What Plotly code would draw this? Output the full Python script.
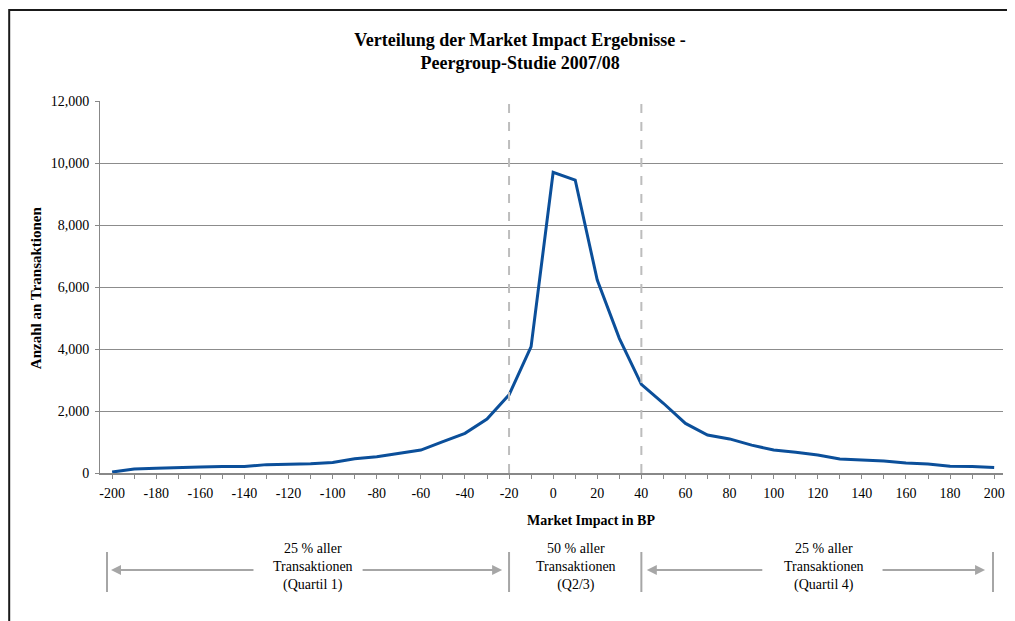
import plotly.graph_objects as go

impact_bp = list(range(-200, 201, 10))
transactions = [30, 130, 150, 160, 190, 210, 210, 270, 280, 300, 340,
                460, 525, 635, 740, 1010, 1280, 1740, 2520, 4075,
                9700, 9450, 6225, 4345, 2860, 2250, 1600, 1225, 1100, 900, 740,
                670, 580, 450, 420, 390, 320, 290, 215, 210, 180]
quartile_bounds = [-20, 40]
x_ticks = list(range(-200, 201, 20))
y_ticks = list(range(0, 12001, 2000))

# page has an 8px body margin; work in reference-pixel coordinates and shift
OFF = 8
W, H = 1015 - OFF, 621 - OFF
PL, PR, PT, PB = 100, 1005, 101, 473          # plot area in reference pixels
L, R, T, B = PL - OFF, W - (PR - OFF), PT - OFF, H - (PB - OFF)
pw, ph = W - L - R, H - T - B

def px(xpix):
    return (xpix - PL) / pw

def py(ypix):
    return (PB - ypix) / ph

serif = "Liberation Serif, Times New Roman, serif"
grey = "#A6A6A6"

fig = go.Figure()
fig.add_trace(go.Scatter(x=impact_bp, y=transactions, mode="lines",
                         line=dict(color="#0B4F9A", width=3), hoverinfo="x+y"))

shapes = []
for qb in quartile_bounds:
    shapes.append(dict(type="line", xref="x", yref="paper", x0=qb, x1=qb, y0=0, y1=1,
                       line=dict(color="#BDBDBD", width=2, dash="dash")))
# outer frame
shapes.append(dict(type="rect", xref="paper", yref="paper", x0=px(9), x1=px(1040),
                   y0=py(660), y1=py(10), line=dict(color="#1a1a1a", width=2), layer="below"))
# quartile bars below the chart
for x0, xr in [(px(107), "paper"), (quartile_bounds[0], "x"), (quartile_bounds[1], "x"), (px(995), "paper")]:
    shapes.append(dict(type="line", xref=xr, yref="paper", x0=x0, x1=x0,
                       y0=py(552), y1=py(592), line=dict(color=grey, width=2)))

annotations = []
arrow_pairs = [(111, 255), (503, 362), (648, 765), (987, 883)]  # (head, tail) ref pixels
for head, tail in arrow_pairs:
    annotations.append(dict(x=px(head), y=py(570), xref="paper", yref="paper",
                            ax=tail - head, ay=0, axref="pixel", ayref="pixel",
                            showarrow=True, arrowhead=2, arrowsize=1, arrowwidth=2,
                            arrowcolor=grey, text=""))
labels = [("25 % aller<br>Transaktionen<br>(Quartil 1)", 313),
          ("50 % aller<br>Transaktionen<br>(Q2/3)", 577),
          ("25 % aller<br>Transaktionen<br>(Quartil 4)", 826)]
for txt, xc in labels:
    annotations.append(dict(x=px(xc), y=py(567), xref="paper", yref="paper", text=txt,
                            showarrow=False, font=dict(family=serif, size=14, color="#000"),
                            xanchor="center", yanchor="middle"))
annotations.append(dict(x=px(592), y=py(520), xref="paper", yref="paper",
                        text="<b>Market Impact in BP</b>", showarrow=False,
                        font=dict(family=serif, size=14, color="#000"),
                        xanchor="center", yanchor="middle"))
annotations.append(dict(x=px(36), y=py(288), xref="paper", yref="paper",
                        text="<b>Anzahl an Transaktionen</b>", showarrow=False, textangle=-90,
                        font=dict(family=serif, size=15, color="#000"),
                        xanchor="center", yanchor="middle"))

fig.update_layout(
    width=W, height=H,
    margin=dict(l=L, r=R, t=T, b=B),
    paper_bgcolor="white", plot_bgcolor="white",
    showlegend=False,
    title=dict(text="<b>Verteilung der Market Impact Ergebnisse -<br>Peergroup-Studie 2007/08</b>",
               xref="paper", x=px(521), xanchor="center",
               yref="container", y=1 - (51 - OFF - 5) / H, yanchor="middle",
               font=dict(family=serif, size=18, color="#000")),
    shapes=shapes,
    annotations=annotations,
    xaxis=dict(range=[-205.5, 204], tickvals=x_ticks, ticktext=[str(v) for v in x_ticks],
               showgrid=False, zeroline=False, showline=True, linecolor="#888888", linewidth=2,
               ticks="outside", ticklen=4, tickcolor="#888888", ticklabelstandoff=2,
               minor=dict(dtick=10, ticks="outside", ticklen=4, tickcolor="#888888"),
               tickfont=dict(family=serif, size=14, color="#000")),
    yaxis=dict(range=[0, 12000], tickvals=y_ticks, tickformat=",d",
               showgrid=True, gridcolor="#8C8C8C", gridwidth=1, zeroline=False,
               showline=True, linecolor="#888888", linewidth=1,
               ticks="outside", ticklen=4, tickcolor="#888888", ticklabelstandoff=3,
               tickfont=dict(family=serif, size=14, color="#000")),
)

fig.write_html("out.html")
